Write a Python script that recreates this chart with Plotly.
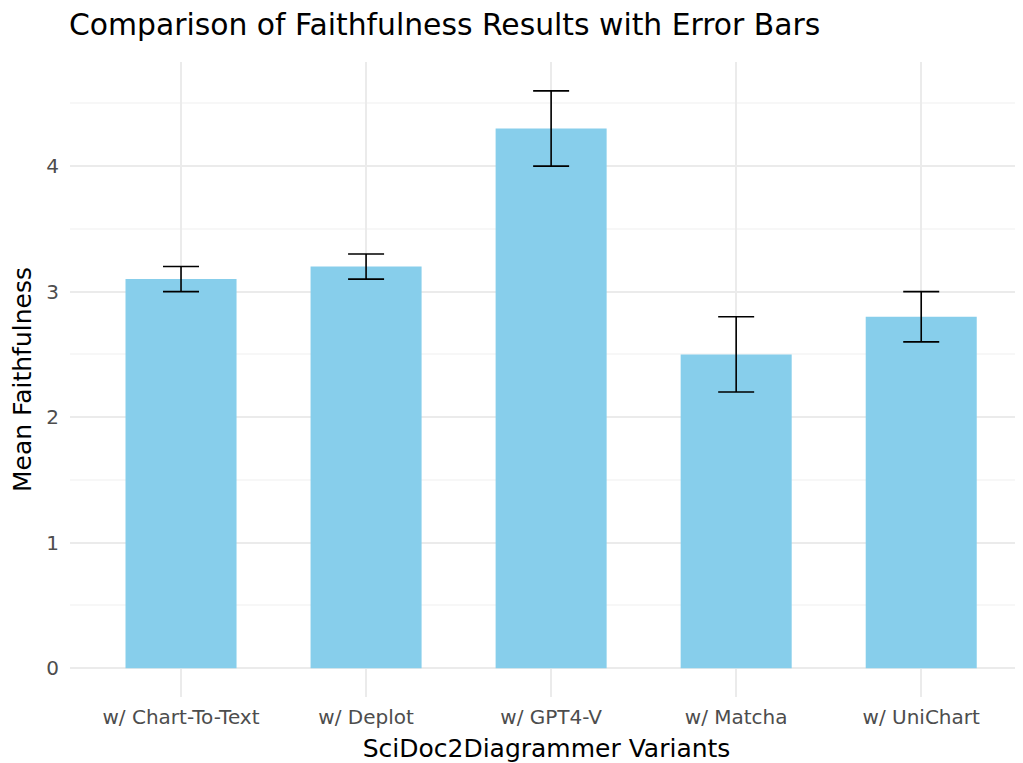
import plotly.graph_objects as go

categories = ["w/ Chart-To-Text", "w/ Deplot", "w/ GPT4-V", "w/ Matcha", "w/ UniChart"]
mean_faithfulness = [3.1, 3.2, 4.3, 2.5, 2.8]
error = [0.1, 0.1, 0.3, 0.3, 0.2]
y_ticks = [0, 1, 2, 3, 4]

FONT = "DejaVu Sans"
W, H = 1015, 755  # page has an 8px body margin

fig = go.Figure()
fig.add_trace(go.Bar(
    x=categories,
    y=mean_faithfulness,
    width=0.6,
    marker=dict(color="#87CEEB", line=dict(width=0)),
    error_y=dict(type="data", array=error, visible=True, color="black", thickness=1.6, width=18),
))

fig.update_layout(
    width=W, height=H,
    margin=dict(l=62, r=0, t=54, b=66),
    plot_bgcolor="white", paper_bgcolor="white",
    showlegend=False,
    title=dict(text="Comparison of Faithfulness Results with Error Bars",
               x=61/W, xanchor="left", y=1-17/H, yanchor="middle",
               font=dict(family=FONT, size=29.8, color="black")),
    font=dict(family=FONT),
)
fig.update_xaxes(
    range=[-0.6, 4.55],
    showgrid=True, gridcolor="#EBEBEB", gridwidth=1.5,
    ticks="", ticklabelstandoff=6,
    tickfont=dict(family=FONT, size=20, color="#4D4D4D"),
    title=dict(text="SciDoc2Diagrammer Variants", font=dict(family=FONT, size=25, color="black"), standoff=15),
    showline=False, zeroline=False,
)
fig.update_yaxes(
    range=[-0.23, 4.83],
    tickvals=y_ticks,
    showgrid=True, gridcolor="#EBEBEB", gridwidth=1.5,
    zeroline=True, zerolinecolor="#EBEBEB", zerolinewidth=1.5,
    minor=dict(tickvals=[0.5, 1.5, 2.5, 3.5, 4.5], showgrid=True, gridcolor="#F7F7F7", gridwidth=1.5, ticks=""),
    ticks="", ticklabelstandoff=10,
    tickfont=dict(family=FONT, size=20, color="#4D4D4D"),
    title=dict(text="Mean Faithfulness", font=dict(family=FONT, size=25, color="black"), standoff=10),
    showline=False,
)

fig.write_html("out.html")
